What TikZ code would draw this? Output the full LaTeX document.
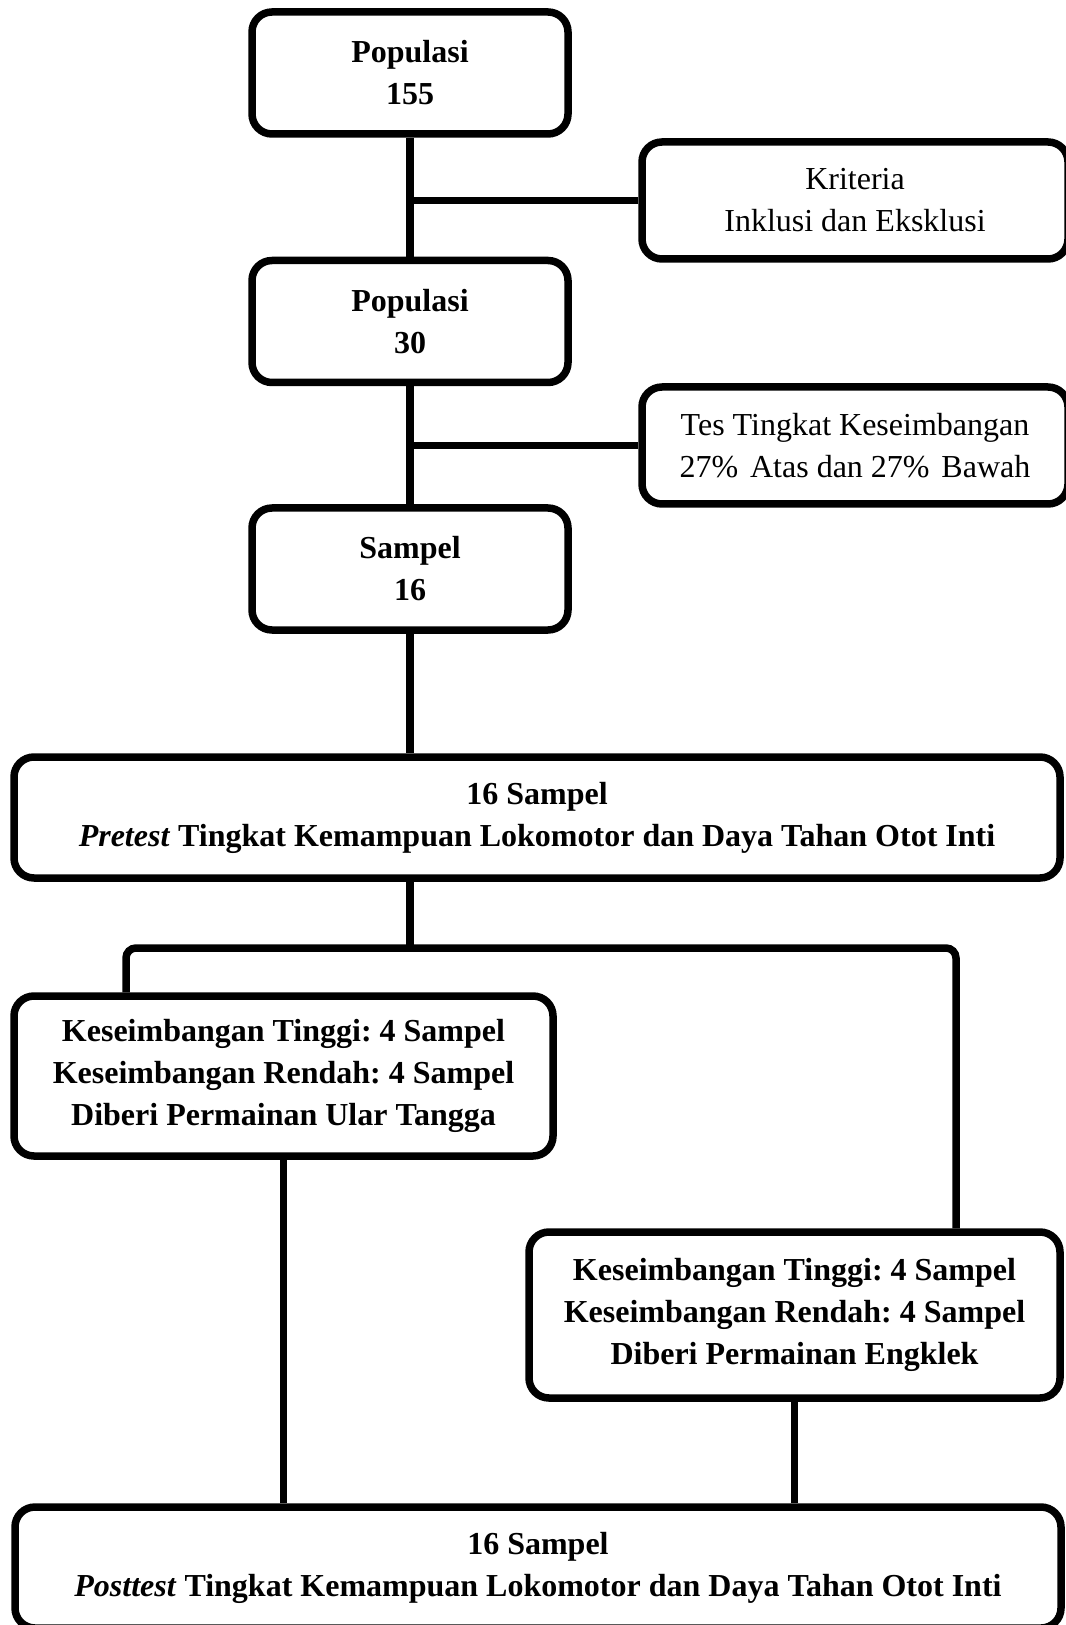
\documentclass[tikz,border=0pt]{standalone}
\usepackage{fontspec}
\setmainfont{Liberation Serif}
\usetikzlibrary{positioning, calc}
\frenchspacing

\begin{document}
\begin{tikzpicture}[x=0.5pt, y=0.5pt,
        every node/.style={align=center, font=\fontsize{16}{21}\selectfont},
        kotak/.style={draw, line width=3.75pt, rounded corners=10pt, font=\fontsize{16}{21}\selectfont\bfseries, minimum width=158pt, minimum height=61pt},
        keterangan/.style={draw, line width=3.75pt, rounded corners=10pt, minimum width=213pt, minimum height=58.5pt},
        lebar/.style={kotak, minimum width=523pt, minimum height=60.5pt},
        kelompok/.style={kotak, minimum width=268pt, minimum height=81pt},
        garis/.style={line width=3.75pt}
    ]
        \useasboundingbox (0,0) rectangle (1065,-1625);

        % alur utama
        \node[kotak] (pop155) at (410,-73) {Populasi\\155};
        \node[kotak, below=59.5pt of pop155] (pop30) {Populasi\\30};
        \node[kotak, below=59pt of pop30] (sampel) {Sampel\\16};
        \node[keterangan] (kriteria) at (855,-200.5) {Kriteria\\Inklusi dan Eksklusi};
        \node[keterangan] (tes) at (855,-445.5) {Tes Tingkat Keseimbangan\\27\%\hspace{0.12em} Atas dan 27\%\hspace{0.12em} Bawah};
        \node[lebar] (pretest) at (537,-817.5) {16 Sampel\\\textit{Pretest} Tingkat Kemampuan Lokomotor dan Daya Tahan Otot Inti};

        % dua kelompok perlakuan
        \node[kelompok, minimum width=269.5pt, minimum height=80pt] (kiri) at (283.5,-1076) {Keseimbangan Tinggi: 4 Sampel\\Keseimbangan Rendah: 4 Sampel\\Diberi Permainan Ular Tangga};
        \node[kelompok, minimum width=265.5pt, minimum height=83pt] (kanan) at (794.5,-1315) {Keseimbangan Tinggi: 4 Sampel\\Keseimbangan Rendah: 4 Sampel\\Diberi Permainan Engklek};
        \node[lebar] (posttest) at (538,-1567.5) {16 Sampel\\\textit{Posttest} Tingkat Kemampuan Lokomotor dan Daya Tahan Otot Inti};

        \coordinate (cabang) at (410,-948);
        \coordinate (cabKiri) at (126,-948);
        \coordinate (cabKanan) at (956,-948);

        \draw[garis] (pop155) -- (pop30);
        \draw[garis] (pop30) -- (sampel);
        \draw[garis] (sampel.south) -- (sampel.south |- pretest.north);
        \draw[garis] (kriteria.west) -- (kriteria.west -| pop155);
        \draw[garis] (tes.west) -- (tes.west -| pop30);
        \draw[garis] (pretest.south -| cabang) -- (cabang);
        \draw[garis, rounded corners=5pt] (cabKiri |- kiri.north) -- (cabKiri) -- (cabKanan) -- (cabKanan |- kanan.north);
        \draw[garis] (kiri.south) -- (kiri.south |- posttest.north);
        \draw[garis] (kanan.south) -- (kanan.south |- posttest.north);
    \end{tikzpicture}
\end{document}
